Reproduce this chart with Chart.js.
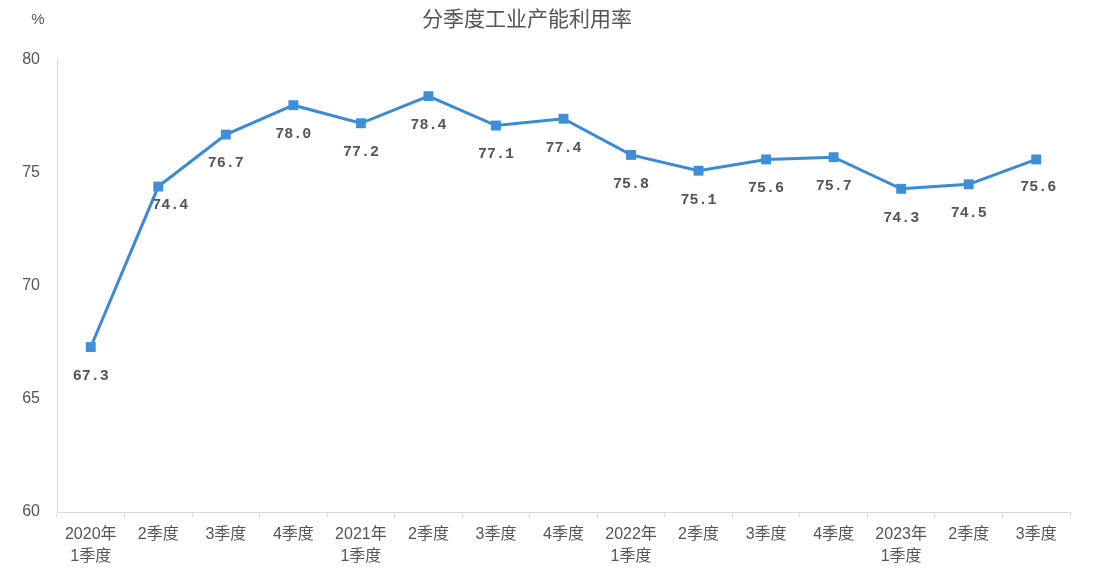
<!DOCTYPE html>
<html>
<head>
<meta charset="utf-8">
<script src="https://cdn.jsdelivr.net/npm/chart.js@4/dist/chart.umd.min.js"></script>
<style>
html,body{margin:0;padding:0;background:#fff;}
#wrap{width:1108px;height:580px;position:relative;}
</style>
</head>
<body>
<div id="wrap"><canvas id="c" width="1108" height="580"></canvas></div>
<script>
const categories = [
  ['2020年','1季度'], '2季度', '3季度', '4季度',
  ['2021年','1季度'], '2季度', '3季度', '4季度',
  ['2022年','1季度'], '2季度', '3季度', '4季度',
  ['2023年','1季度'], '2季度', '3季度'
];
const utilization = [67.3, 74.4, 76.7, 78.0, 77.2, 78.4, 77.1, 77.4, 75.8, 75.1, 75.6, 75.7, 74.3, 74.5, 75.6];
const yTicks = [60, 65, 70, 75, 80];
const titleText = '分季度工业产能利用率';
const unitText = '%';

const labelOffsets = utilization.map((v, i) => i === 1 ? [12, 19] : (i === utilization.length - 1 ? [2, 28] : [0, 29]));

const decor = {
  id: 'decor',
  afterDatasetsDraw(chart) {
    const ctx = chart.ctx;
    ctx.save();
    ctx.fillStyle = '#555';
    ctx.textAlign = 'center';
    ctx.textBaseline = 'middle';
    ctx.font = '21px "Noto Sans CJK SC", sans-serif';
    ctx.fillText(titleText, 527, 18);
    ctx.font = '15px "Liberation Sans", sans-serif';
    ctx.fillText(unitText, 38, 20);
    const meta = chart.getDatasetMeta(0);
    ctx.font = 'bold 15px "Liberation Mono", "DejaVu Sans Mono", monospace';
    ctx.fillStyle = '#555';
    meta.data.forEach((pt, i) => {
      const [dx, dy] = labelOffsets[i];
      ctx.fillText(utilization[i].toFixed(1), pt.x + dx, pt.y + dy);
    });
    ctx.restore();
  }
};

new Chart(document.getElementById('c'), {
  type: 'line',
  data: {
    labels: categories,
    datasets: [{
      data: utilization,
      borderColor: '#3b8bd4',
      backgroundColor: '#3f8fd8',
      borderWidth: 3,
      pointStyle: 'rect',
      pointRadius: 7,
      pointBorderWidth: 0,
      pointBackgroundColor: '#3f8fd8',
      tension: 0,
      fill: false
    }]
  },
  options: {
    responsive: false,
    animation: false,
    devicePixelRatio: 1,
    layout: { padding: { left: 0, right: 38, top: 60, bottom: 0 } },
    plugins: { legend: { display: false }, tooltip: { enabled: false }, title: { display: false } },
    scales: {
      x: {
        type: 'category',
        offset: true,
        grid: { display: true, offset: true, drawOnChartArea: false, drawTicks: true, tickLength: 5, color: '#d9d9d9' },
        border: { display: true, color: '#d9d9d9', width: 1 },
        ticks: {
          color: '#555',
          font: { size: 16, family: '"Liberation Sans", "Noto Sans CJK SC", sans-serif', lineHeight: 1.4 },
          padding: 6,
          maxRotation: 0,
          autoSkip: false
        },
        afterFit(scale) { scale.height = 68; }
      },
      y: {
        min: 60, max: 80,
        afterBuildTicks(scale) { scale.ticks = yTicks.map(v => ({ value: v })); },
        grid: { display: false },
        border: { display: true, color: '#d9d9d9', width: 1 },
        ticks: {
          color: '#555',
          font: { size: 16, family: '"Liberation Sans", sans-serif' },
          padding: 9
        },
        afterFit(scale) { scale.width = 57; }
      }
    }
  },
  plugins: [decor]
});
</script>
</body>
</html>
